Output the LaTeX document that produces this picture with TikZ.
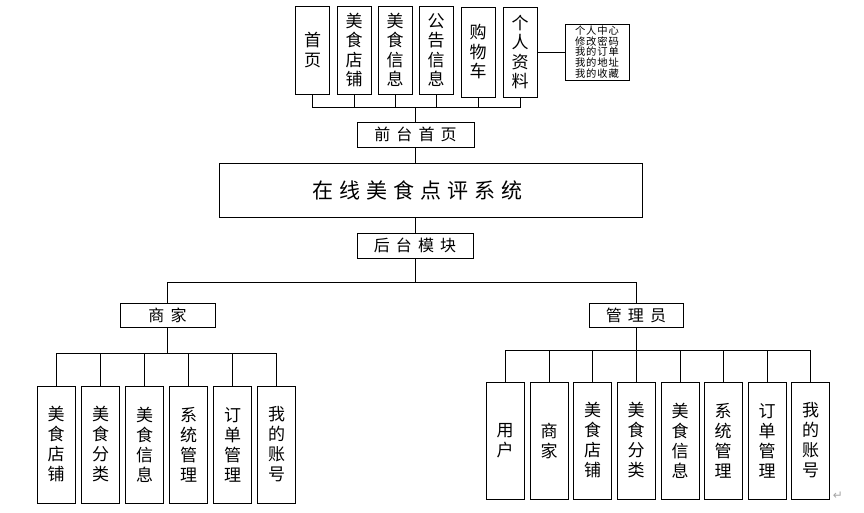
\documentclass[tikz,border=0pt]{standalone}
\usepackage{fontspec}
\newfontfamily\cjk{Noto Sans CJK SC}
\newfontfamily\cjkw[LetterSpace=38]{Noto Sans CJK SC}
\newfontfamily\cjkt[LetterSpace=28]{Noto Sans CJK SC}
\newfontfamily\cjks[LetterSpace=9]{Noto Sans CJK SC}
\newfontfamily\symf{DejaVu Sans}
\begin{document}
\begin{tikzpicture}[x=1pt,y=-1pt,line width=0.8pt,
  vbox/.style={draw,minimum width=34pt,minimum height=88pt,inner sep=0pt,align=center,
    font=\cjk\fontsize{17}{19.5}\selectfont},
  cbox/.style={draw,minimum width=38pt,minimum height=117pt,inner sep=0pt,align=center,
    font=\cjk\fontsize{17}{20}\selectfont},
  hbox/.style={draw,minimum height=24pt,inner sep=0pt,
    font=\cjkw\fontsize{16}{18}\selectfont},
  wire/.style={draw,line width=0.8pt}]
\useasboundingbox (0,0) rectangle (864,513);

% top row
\node[vbox] (t1) at (312.5,50) {首\\页};
\node[vbox] (t2) at (354,50) {美\\食\\店\\铺};
\node[vbox] (t3) at (395,50) {美\\食\\信\\息};
\node[vbox] (t4) at (436,50) {公\\告\\信\\息};
\node[vbox,minimum height=90pt] (t5) at (478,52) {购\\物\\车};
\node[vbox,minimum height=90pt] (t6) at (520,52) {个\\人\\资\\料};
\node[draw,minimum width=64pt,minimum height=56pt,inner sep=0pt,align=center,
  font=\cjks\fontsize{10.3}{10.9}\selectfont] (pc) at (597,52)
  {个人中心\\修改密码\\我的订单\\我的地址\\我的收藏};
\draw[wire] (t6.east) -- (pc.west);

\node[hbox,minimum width=117pt,minimum height=25pt] (front) at (415.5,134.5) {前台首页};
\coordinate (tb) at (415.5,107);
\foreach \i in {1,...,6} \draw[wire] (t\i.south) |- (tb);
\draw[wire] (front.north) -- (tb);

\node[draw,minimum width=423pt,minimum height=54pt,inner sep=0pt,
  font=\cjkt\fontsize{21}{24}\selectfont] (main) at (430.5,190) {\kern-26pt 在线美食点评系统};
\draw[wire] (front.south) -- (front.south |- main.north);

\node[hbox,minimum width=116pt,minimum height=25pt] (back) at (415,245.5) {后台模块};
\draw[wire] (back.north) -- (back.north |- main.south);
\coordinate (lv) at (415,282);
\draw[wire] (back.south) -- (lv);

\node[hbox,minimum width=95pt] (merchant) at (167.5,315) {商家};
\node[hbox,minimum width=94pt] (admin) at (636,315) {管理员};
\draw[wire] (merchant.north) |- (lv);
\draw[wire] (admin.north) |- (lv);

% merchant children
\node[cbox] (m1) at (56,444.5) {美\\食\\店\\铺};
\node[cbox] (m2) at (100.5,444.5) {美\\食\\分\\类};
\node[cbox] (m3) at (144.5,444.5) {美\\食\\信\\息};
\node[cbox] (m4) at (188.5,444.5) {系\\统\\管\\理};
\node[cbox] (m5) at (232.5,444.5) {订\\单\\管\\理};
\node[cbox] (m6) at (276.5,444.5) {我\\的\\账\\号};
\coordinate (mb) at (167.5,353);
\foreach \i in {1,...,6} \draw[wire] (m\i.north) |- (mb);
\draw[wire] (merchant.south) -- (mb);

% admin children
\node[cbox] (a1) at (505,440.5) {用\\户};
\node[cbox] (a2) at (549,440.5) {商\\家};
\node[cbox] (a3) at (592.5,440.5) {美\\食\\店\\铺};
\node[cbox] (a4) at (636,440.5) {美\\食\\分\\类};
\node[cbox] (a5) at (680,440.5) {美\\食\\信\\息};
\node[cbox] (a6) at (723,440.5) {系\\统\\管\\理};
\node[cbox] (a7) at (767,440.5) {订\\单\\管\\理};
\node[cbox] (a8) at (810.5,440.5) {我\\的\\账\\号};
\coordinate (ab) at (636,350);
\foreach \i in {1,...,8} \draw[wire] (a\i.north) |- (ab);
\draw[wire] (admin.south) -- (ab);

\node[text=gray!70,font=\symf\fontsize{12}{12}\selectfont,inner sep=0pt] (pm) at (838,496) {↵};
\end{tikzpicture}
\end{document}
